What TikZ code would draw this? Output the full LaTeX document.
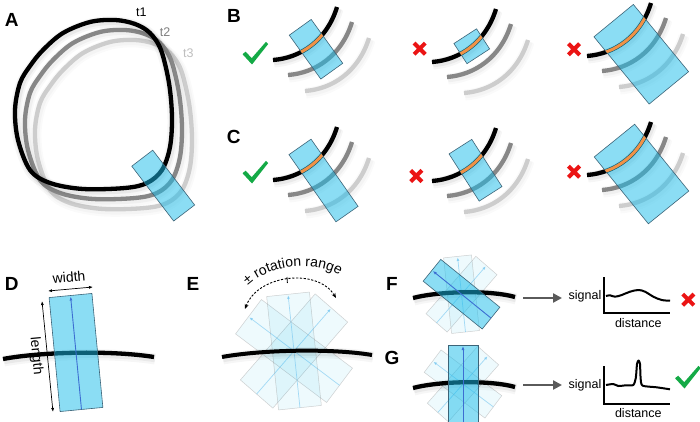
\documentclass[tikz,border=0pt]{standalone}
\usepackage{fontspec}
\setmainfont{Liberation Sans}
\usetikzlibrary{arrows.meta,decorations.text}

\definecolor{probeblue}{RGB}{25,189,235}
\definecolor{probeedge}{RGB}{60,100,120}
\definecolor{arrowblue}{RGB}{60,110,210}
\definecolor{faintarrow}{RGB}{110,195,240}
\definecolor{segorange}{RGB}{240,145,70}
\definecolor{okgreen}{RGB}{20,170,70}
\definecolor{badred}{RGB}{235,20,20}
\definecolor{midgray}{RGB}{135,135,135}
\definecolor{lightgraytwo}{RGB}{205,205,205}
\definecolor{arrowgray}{RGB}{90,90,90}

\tikzset{
  glowA/.style={
    preaction={draw=black, draw opacity=0.035, line width=11pt, transform canvas={shift={(1pt,-2pt)}}},
    preaction={draw=black, draw opacity=0.05, line width=7.5pt, transform canvas={shift={(1pt,-1.5pt)}}}},
  glowB/.style={
    preaction={draw=black, draw opacity=0.025, line width=11pt, transform canvas={shift={(1pt,-2pt)}}},
    preaction={draw=black, draw opacity=0.035, line width=7.5pt, transform canvas={shift={(1pt,-1.5pt)}}}},
  glowC/.style={
    preaction={draw=black, draw opacity=0.02, line width=11pt, transform canvas={shift={(1pt,-2pt)}}},
    preaction={draw=black, draw opacity=0.025, line width=7.5pt, transform canvas={shift={(1pt,-1.5pt)}}}},
  curveblack/.style={draw=black, line width=4.3pt, glowA},
  curvegray/.style={draw=midgray, line width=4.3pt, glowB},
  curvelight/.style={draw=lightgraytwo, line width=4.3pt, glowC},
  probe/.style={fill=probeblue, fill opacity=0.5, draw=probeedge, line width=0.6pt},
  faint/.style={fill=probeblue, fill opacity=0.07, draw=black!40, draw opacity=0.45, line width=0.5pt},
  orangeseg/.style={draw=segorange, line width=3pt},
  probearrow/.style={draw=arrowblue, line width=0.9pt, -{Latex[length=4pt,width=3pt]}},
  faintarr/.style={draw=faintarrow, opacity=0.6, line width=0.7pt, -{Latex[length=3.5pt,width=3pt]}},
  panel/.style={font=\fontsize{19}{19}\selectfont\bfseries, inner sep=0pt},
  tlab/.style={font=\fontsize{12.5}{12.5}\selectfont, inner sep=0pt},
  dimlab/.style={font=\fontsize{14}{14}\selectfont, inner sep=0pt},
  plotlab/.style={font=\fontsize{12.5}{12.5}\selectfont, inner sep=0pt},
  dimarrow/.style={draw=black, line width=0.7pt, {Latex[length=4pt,width=3pt]}-{Latex[length=4pt,width=3pt]}},
  rotarrow/.style={draw=black, line width=0.9pt, dash pattern=on 2.2pt off 1.6pt, {Stealth[length=5pt,width=4pt]}-{Stealth[length=5pt,width=4pt]}},
  flowarrow/.style={draw=arrowgray, line width=2.6pt, -{Triangle[length=9pt,width=9pt]}},
  axisline/.style={draw=black, line width=1.2pt},
  sigline/.style={draw=black, line width=2pt, line join=round}
}

% an arc of the B/C panels, #1 style, #2 #3 origin
\newcommand{\onearc}[3]{\draw[#1, shift={(#2,#3)}] (0,0) .. controls (28,-2) and (54,-20) .. (64,-53);}
\newcommand{\arcset}[2]{%
  \onearc{curvelight}{#1+32}{#2+31}%
  \onearc{curvegray}{#1+15}{#2+15}%
  \onearc{curveblack}{#1}{#2}}
% style, cx, cy, angle, length, width
\newcommand{\probebox}[6]{\draw[#1, shift={(#2,#3)}, rotate=#4] (-#5/2,-#6/2) rectangle (#5/2,#6/2);}
% ox oy cx cy angle L W
\newcommand{\orangeseg}[7]{%
  \begin{scope}
    \clip[shift={(#3,#4)}, rotate=#5] (-#6/2,-#7/2) rectangle (#6/2,#7/2);
    \draw[orangeseg, shift={(#1,#2)}] (0,0) .. controls (28,-2) and (54,-20) .. (64,-53);
  \end{scope}}
\newcommand{\scene}[7]{\arcset{#1}{#2}\probebox{probe}{#3}{#4}{#5}{#6}{#7}\orangeseg{#1}{#2}{#3}{#4}{#5}{#6}{#7}}
\newcommand{\gcheck}[2]{\fill[okgreen, shift={(#1,#2)}] (-12.5,1.2) -- (-9.3,-1.3) -- (-3.3,5.2) -- (11,-11.2) -- (13.2,-9) -- (-3,11.5) -- cycle;}
\newcommand{\rcross}[2]{\draw[badred, line width=4pt, shift={(#1,#2)}] (-5.6,-5.6) -- (5.6,5.6) (-5.6,5.6) -- (5.6,-5.6);}
% cx cy angle L W
\newcommand{\faintprobe}[5]{%
  \draw[faint, shift={(#1,#2)}, rotate=#3] (-#4/2,-#5/2) rectangle (#4/2,#5/2);
  \draw[faintarr, shift={(#1,#2)}, rotate=#3] (-#4/2,0) -- (#4/2-1,0);}
\newcommand{\fullprobe}[5]{%
  \draw[probe, shift={(#1,#2)}, rotate=#3] (-#4/2,-#5/2) rectangle (#4/2,#5/2);
  \draw[probearrow, shift={(#1,#2)}, rotate=#3] (-#4/2,0) -- (#4/2-1,0);}
\newcommand{\loopA}[3]{\draw[#1, shift={(#2,#3)}] plot[smooth cycle, tension=0.55] coordinates {(15,110) (20,83) (30,66) (43,50) (63,33) (90,22) (115,20) (135,24) (150,33) (161,50) (169,83) (172,117) (170,147) (162,170) (147,183) (125,188) (83,189) (50,183) (30,170) (18,140)};}

\begin{document}
\begin{tikzpicture}[x=1pt, y=-1pt]
\fill[white] (0,0) rectangle (700,422);
\useasboundingbox (0,0) rectangle (700,422);

% ---------- Panel A
\loopA{curvelight}{20}{20}
\loopA{curvegray}{10}{10}
\loopA{curveblack}{0}{0}
\probebox{probe}{163.2}{185.6}{-52.6}{69}{26.4}
\node[panel] (pA) at (11.7,20) {A};
\node[tlab, text=black] (t1) at (141.3,12.5) {t1};
\node[tlab, text=black!50] (t2) at (165,32) {t2};
\node[tlab, text=black!25] (t3) at (188.3,52.8) {t3};

% ---------- Panels B and C
\node[panel] (pB) at (234,16.3) {B};
\node[panel] (pC) at (233.7,136.7) {C};
\scene{273}{60}{316}{49.25}{-54.3}{54}{27}
\scene{432}{62}{471.75}{46.25}{-57}{24}{27}
\scene{587}{56}{641.25}{54.25}{-50.6}{87}{51}
\scene{273}{180}{323.5}{180.5}{-55}{82}{27}
\scene{432}{181}{475.5}{170.25}{-57.4}{56}{27}
\scene{587}{175}{641.5}{174}{-51}{86}{52}
\gcheck{255}{53}
\rcross{419.7}{48.7}
\rcross{574}{49.3}
\gcheck{255}{172}
\rcross{416.3}{176}
\rcross{574}{171.7}

% ---------- Panel D
\node[panel] (pD) at (11.7,283.7) {D};
\draw[curveblack] (3,359) .. controls (40,352) and (110,350) .. (154,357);
\fullprobe{76}{352.5}{95.5}{114.5}{43}
\coordinate (dw1) at (48,291);
\coordinate (dw2) at (93,287);
\draw[dimarrow] (dw1) -- (dw2);
\node[dimlab, rotate=5] (wlab) at (69,277) {width};
\coordinate (dl1) at (42,301);
\coordinate (dl2) at (53,412);
\draw[dimarrow] (dl1) -- (dl2);
\node[dimlab, rotate=-84.5] (llab) at (36,356) {length};

% ---------- Panel E
\node[panel] (pE) at (193,283.7) {E};
\faintprobe{294}{351}{49}{114}{43}
\faintprobe{294}{351}{143}{114}{43}
\faintprobe{294}{351}{96}{114}{43}
\draw[curveblack, line width=4pt] (222,357) .. controls (260,350) and (330,348) .. (372,355);
\coordinate (rr1) at (245,309);
\coordinate (rr2) at (336,298);
\draw[rotarrow] (rr1) .. controls (258,274) and (318,268) .. (rr2);
\draw[line width=0.8pt] (287,277) -- (287.4,283);
\path[decorate, decoration={text along path, text align=center,
  text={|\fontsize{14}{14}\selectfont|± rotation range}}]
  (240,295) .. controls (259,263) and (323,256) .. (349,283);

% ---------- Panel F
\node[panel] (pF) at (392,283.7) {F};
\faintprobe{461.5}{294.2}{49}{76}{28}
\faintprobe{461.5}{294.2}{96}{76}{28}
\draw[curveblack] (413,298) .. controls (440,291) and (490,290) .. (515,297);
\fullprobe{461.5}{294.2}{141}{76}{28}
\coordinate (fs) at (523,298);
\coordinate (ft) at (562,298);
\draw[flowarrow] (fs) -- (ft);
\node[plotlab] (fsig) at (585,296) {signal};
\draw[axisline] (604,277) -- (604,313) -- (670,313);
\node[plotlab] (fdist) at (638.3,323.3) {distance};
\draw[sigline] plot[smooth, tension=0.6] coordinates {(606,296) (610,295.3) (615,296.7) (621.7,295) (630,291.7) (638.3,290) (645,291.7) (653.3,296.7) (661.7,300) (670,300.7)};
\rcross{688.3}{299.7}

% ---------- Panel G
\node[panel] (pG) at (392,357.5) {G};
\faintprobe{463}{384}{48.5}{76}{28}
\faintprobe{463}{384}{143}{76}{28}
\draw[curveblack] (413,388) .. controls (440,381) and (490,380) .. (515,387);
\fullprobe{463}{384}{90}{78}{30}
\coordinate (gs) at (523,385);
\coordinate (gt) at (562,385);
\draw[flowarrow] (gs) -- (gt);
\node[plotlab] (gsig) at (585,385) {signal};
\draw[axisline] (604,366) -- (604,404) -- (670,404);
\node[plotlab] (gdist) at (638.3,412.7) {distance};
\draw[sigline] plot[smooth, tension=0.4] coordinates {(606,385) (613.3,384) (618.3,386) (626,385.3) (633.3,385) (635.8,378) (637,364) (638.5,360.5) (640,364) (640.6,378) (642.5,385.6) (656.7,387.3) (670,389.3)};
\gcheck{687.5}{377}

\end{tikzpicture}
\end{document}
